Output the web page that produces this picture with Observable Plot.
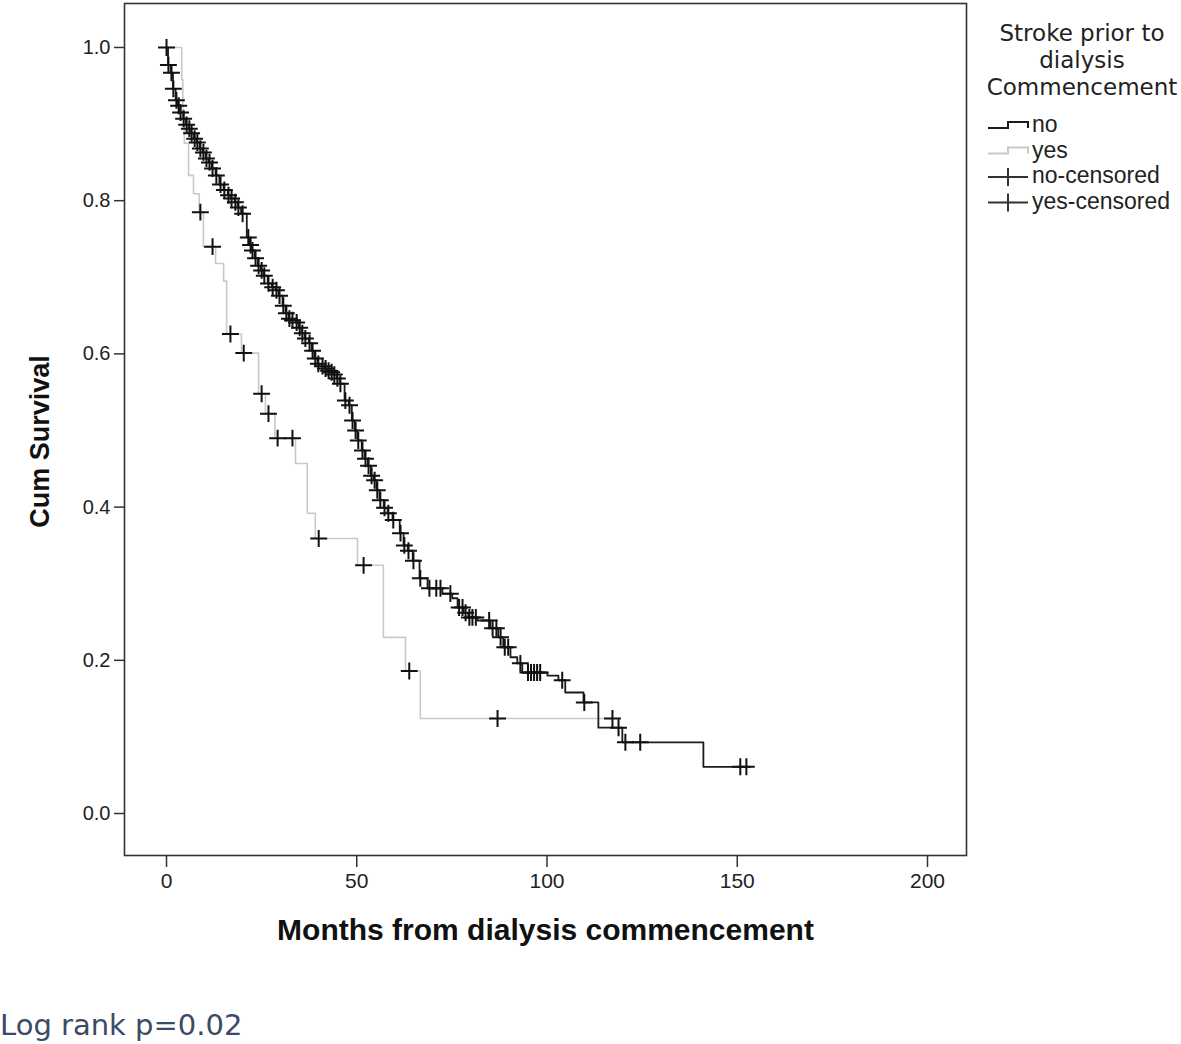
<!DOCTYPE html>
<html>
<head>
<meta charset="utf-8">
<script src="https://cdn.jsdelivr.net/npm/d3@7"></script>
<script src="https://cdn.jsdelivr.net/npm/@observablehq/plot@0.6"></script>
<style>
  html, body { margin: 0; padding: 0; background: #fff; }
  #wrap { position: relative; width: 1181px; height: 1044px; }
  #legend { position: absolute; left: 966px; top: 0; }
  #caption { position: absolute; left: 0; top: 1005px; font-family: "DejaVu Sans", sans-serif; font-size: 29px; line-height: 40px; color: #3b4a66; }
</style>
</head>
<body>
<div id="wrap">
  <div id="chart"></div>
  <div id="legend"></div>
  <div id="caption">Log rank p=0.02</div>
</div>
<script>
// ---- Data ----
// "no" group: times (months) where the Kaplan-Meier curve steps, and the survival after the step
const noTime = [0, 0.4, 1.1, 1.7, 2.4, 3.0, 3.6, 4.4, 5.1, 5.9, 6.5, 7.2, 8.0, 8.7, 9.5, 10.3, 11.1, 11.9, 12.9, 13.9,
  15.0, 16.1, 16.9, 17.9, 18.7, 19.6, 21.1, 21.9, 22.4, 23.2, 24.0, 24.8, 25.5, 26.6, 27.7, 28.7, 29.5, 30.5, 31.3, 32.1,
  33.0, 34.0, 34.8, 35.5, 36.3, 37.4, 38.2, 38.9, 39.7, 40.8, 41.6, 42.4, 43.2, 43.9, 44.7, 45.5, 46.8, 47.9, 48.7, 49.5,
  50.2, 51.3, 52.1, 52.9, 53.7, 54.5, 55.2, 56.0, 57.1, 58.1, 59.4, 61.3, 62.3, 63.4, 64.7, 66.5, 68.6, 72.5, 75.1, 76.5,
  78.1, 79.3, 81.7, 85.1, 87.2, 88.5, 90.4, 92.2, 93.5, 100.1, 103.0, 104.8, 109.6, 113.5, 119.8, 141.1, 153.4];
const noSurv = [1.000, 0.977, 0.967, 0.946, 0.931, 0.924, 0.915, 0.907, 0.899, 0.894, 0.888, 0.881, 0.876, 0.868, 0.863, 0.855, 0.850, 0.842, 0.833, 0.821,
  0.814, 0.807, 0.803, 0.798, 0.791, 0.783, 0.752, 0.742, 0.735, 0.725, 0.715, 0.709, 0.702, 0.692, 0.687, 0.683, 0.676, 0.663, 0.653, 0.646,
  0.644, 0.641, 0.634, 0.627, 0.620, 0.614, 0.604, 0.594, 0.587, 0.584, 0.581, 0.578, 0.576, 0.573, 0.568, 0.561, 0.539, 0.533, 0.513, 0.500,
  0.487, 0.474, 0.463, 0.454, 0.441, 0.435, 0.422, 0.409, 0.399, 0.392, 0.383, 0.366, 0.350, 0.343, 0.330, 0.307, 0.294, 0.287, 0.281, 0.269,
  0.262, 0.256, 0.252, 0.242, 0.230, 0.217, 0.204, 0.196, 0.184, 0.180, 0.174, 0.158, 0.145, 0.112, 0.093, 0.061, 0.061];
const noCensored = [0.0, 0.5, 1.3, 1.8, 2.6, 3.2, 3.7, 4.5, 5.3, 6.0, 6.6, 7.4, 8.1, 8.9, 9.7, 10.5, 11.3, 12.1, 13.1, 14.2,
  15.2, 16.3, 17.1, 18.1, 18.9, 20.0, 21.5, 22.1, 22.6, 23.4, 24.2, 25.0, 25.7, 26.8, 27.9, 28.9, 29.7, 30.7, 31.5, 32.3,
  33.1, 34.2, 35.0, 35.7, 36.5, 37.6, 38.4, 39.1, 39.9, 41.0, 41.8, 42.6, 43.4, 44.1, 44.9, 45.7, 47.0, 48.1, 48.9, 49.7,
  50.4, 51.5, 52.3, 53.1, 53.9, 54.7, 55.4, 56.2, 57.3, 58.3, 59.6, 61.5, 62.5, 63.6, 64.9, 66.7, 69.1, 70.9, 72.0, 74.6,
  76.9, 77.8, 78.6, 79.6, 80.4, 81.3, 84.8, 85.7, 86.7, 87.8, 88.9, 89.8, 93.0, 95.0, 95.8, 96.6, 97.4, 98.2, 104.0, 109.8,
  118.8, 120.6, 124.5, 150.8, 152.4];

// "yes" group
const yesTime = [0, 4.0, 4.3, 4.7, 5.8, 7.1, 8.6, 9.7, 12.9, 15.0, 15.8, 19.7, 24.2, 26.0, 28.5, 33.9, 37.0, 39.1, 50.2, 57.0, 62.8, 66.7, 117.2];
const yesSurv = [1.000, 0.958, 0.917, 0.875, 0.833, 0.809, 0.785, 0.740, 0.718, 0.695, 0.626, 0.601, 0.548, 0.522, 0.490, 0.457, 0.392, 0.359, 0.324, 0.230, 0.186, 0.124, 0.124];
const yesCensored = [8.9, 12.1, 16.8, 20.3, 25.0, 26.8, 29.2, 33.1, 40.0, 51.8, 63.8, 87.0, 117.2];

const xTicks = [0, 50, 100, 150, 200];
const yTicks = [0.0, 0.2, 0.4, 0.6, 0.8, 1.0];
const xTitle = "Months from dialysis commencement";
const yTitle = "Cum Survival";
const legendTitle = ["Stroke prior to", "dialysis", "Commencement"];
const legendLabels = ["no", "yes", "no-censored", "yes-censored"];

// ---- Build tables ----
const steps = (T, S) => T.map((t, i) => ({t, s: S[i]}));
const survAt = (T, S, t) => { let s = S[0]; for (let i = 0; i < T.length; i++) if (T[i] <= t) s = S[i]; return s; };
const noRows = steps(noTime, noSurv);
const yesRows = steps(yesTime, yesSurv);
const noCens = noCensored.map(t => ({t, s: survAt(noTime, noSurv, t)}));
const yesCens = yesCensored.map(t => ({t, s: survAt(yesTime, yesSurv, t)}));

const colNo = "#1c1c1c", colYes = "#c9c9c9";

const chart = Plot.plot({
  width: 1181,
  height: 960,
  marginLeft: 124,
  marginRight: 215,
  marginTop: 3,
  marginBottom: 105,
  x: {domain: [-11.04, 210.25]},
  y: {domain: [-0.0548, 1.0574]},
  style: {fontFamily: "'Liberation Sans', Arial, sans-serif", fontSize: "21px", color: "#222", background: "#fff"},
  marks: [
    Plot.axisX(xTicks, {tickSize: 12, tickPadding: 6, label: null, fontSize: 21, strokeWidth: 1.5, stroke: "#333"}),
    Plot.axisY(yTicks, {tickSize: 10, tickPadding: 4, tickFormat: d3.format(".1f"), label: null, fontSize: 20, strokeWidth: 1.5, stroke: "#333"}),
    Plot.line(yesRows, {x: "t", y: "s", curve: "step-after", stroke: colYes, strokeWidth: 1.6}),
    Plot.line(noRows, {x: "t", y: "s", curve: "step-after", stroke: colNo, strokeWidth: 1.8}),
    Plot.dot(yesCens, {x: "t", y: "s", symbol: "plus", r: 5.5, stroke: "#111", strokeWidth: 2}),
    Plot.dot(noCens, {x: "t", y: "s", symbol: "plus", r: 5.5, stroke: "#111", strokeWidth: 2}),
    Plot.frame({stroke: "#333", strokeWidth: 1.6}),
    Plot.text([xTitle], {text: d => d, frameAnchor: "bottom", dy: 84, fontSize: 30, fontWeight: "bold", fill: "#111"}),
    Plot.text([yTitle], {text: d => d, frameAnchor: "left", textAnchor: "middle", dx: -84, dy: 12, rotate: -90, fontSize: 27, fontWeight: "bold", fill: "#111"})
  ]
});
document.getElementById("chart").appendChild(chart);

// ---- Legend (right side) ----
const lg = d3.select("#legend").append("svg").attr("width", 215).attr("height", 230)
  .style("font-family", "'Liberation Sans', Arial, sans-serif");
lg.selectAll("text.title").data(legendTitle).join("text")
  .attr("class", "title")
  .attr("x", 116).attr("y", (d, i) => 41 + i * 27)
  .attr("text-anchor", "middle")
  .style("font-family", "'DejaVu Sans', sans-serif")
  .style("font-size", "23px").attr("fill", "#222")
  .text(d => d);
const rowBase = [132, 157.5, 183, 208.5];
lg.selectAll("text.entry").data(legendLabels).join("text")
  .attr("class", "entry")
  .attr("x", 66).attr("y", (d, i) => rowBase[i])
  .style("font-size", "23px").attr("fill", "#222")
  .text(d => d);
// step icons
[[colNo, 0], [colYes, 1]].forEach(([c, i]) => {
  const y = rowBase[i] - 4;
  lg.append("path").attr("d", `M22,${y}H42V${y - 6}H62V${y}`).attr("fill", "none").attr("stroke", c).attr("stroke-width", 2);
});
// censored icons
[2, 3].forEach(i => {
  const y = rowBase[i] - 6;
  lg.append("path").attr("d", `M22,${y}H62M42,${y - 9}V${y + 9}`).attr("fill", "none").attr("stroke", "#333").attr("stroke-width", 2);
});
</script>
</body>
</html>
